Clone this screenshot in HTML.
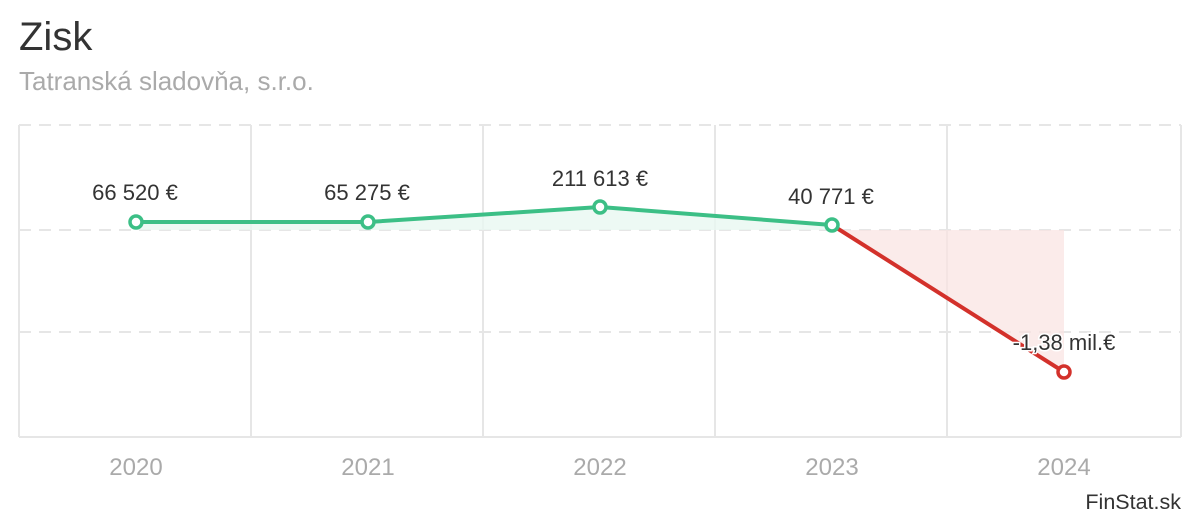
<!DOCTYPE html>
<html><head><meta charset="utf-8"><style>
body{margin:0;background:#fff;width:1200px;height:520px;overflow:hidden;font-family:"Liberation Sans",sans-serif}
</style></head><body>
<svg width="1200" height="520" xmlns="http://www.w3.org/2000/svg" font-family="Liberation Sans, sans-serif">
<text x="19" y="50" font-size="40" fill="#333">Zisk</text>
<text x="19" y="90" font-size="26" fill="#aaa">Tatranská sladovňa, s.r.o.</text>
<g stroke="#e6e6e6" stroke-width="2">
<line x1="19" y1="125" x2="19" y2="437"/><line x1="251" y1="125" x2="251" y2="437"/><line x1="483" y1="125" x2="483" y2="437"/><line x1="715" y1="125" x2="715" y2="437"/><line x1="947" y1="125" x2="947" y2="437"/><line x1="1181" y1="125" x2="1181" y2="437"/>
<line x1="19" y1="437" x2="1181" y2="437"/>
<g stroke-dasharray="12,8"><line x1="19" y1="125" x2="1181" y2="125"/><line x1="19" y1="230" x2="1181" y2="230"/><line x1="19" y1="332" x2="1181" y2="332"/></g>
</g>
<polygon points="136,222 368,222 600,207 832,225 840,230 136,230" fill="#e9f7f1" opacity="0.8"/>
<polygon points="840,230 1064,230 1064,372" fill="#f9e3e1" opacity="0.7"/>
<polyline points="136,222 368,222 600,207 832,225" fill="none" stroke="#3cbf86" stroke-width="4"/>
<line x1="832" y1="225" x2="1064" y2="372" stroke="#d3312b" stroke-width="4"/>
<g fill="#fff" stroke-width="3.5"><circle cx="136" cy="222" r="6" stroke="#3cbf86"/><circle cx="368" cy="222" r="6" stroke="#3cbf86"/><circle cx="600" cy="207" r="6" stroke="#3cbf86"/><circle cx="832" cy="225" r="6" stroke="#3cbf86"/><circle cx="1064" cy="372" r="6" stroke="#d3312b"/></g>
<g font-size="22" fill="#333" text-anchor="middle">
<text x="135" y="200">66 520 €</text><text x="367" y="200">65 275 €</text><text x="600" y="186">211 613 €</text><text x="831" y="204">40 771 €</text>
<text x="1064" y="350" stroke="#fff" stroke-width="3" paint-order="stroke">-1,38 mil.€</text>
</g>
<g font-size="24" fill="#aaa" text-anchor="middle">
<text x="136" y="475">2020</text><text x="368" y="475">2021</text><text x="600" y="475">2022</text><text x="832" y="475">2023</text><text x="1064" y="475">2024</text>
</g>
<text x="1181" y="509" font-size="21.5" fill="#333" text-anchor="end">FinStat.sk</text>
</svg>
</body></html>
